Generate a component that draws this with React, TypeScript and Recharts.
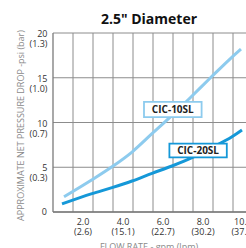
import React from 'react';
import { LineChart, Line, XAxis, YAxis, CartesianGrid, ReferenceLine, ReferenceArea } from 'recharts';

// Flow rate (gpm) and net pressure drop (psi)
const cic10Flow = [1.05, 2.45, 3.45, 4.45, 5.45, 6.45, 7.4, 8.4, 9.4, 9.9];
const cic10Psi = [1.7, 3.6, 5.05, 6.7, 8.75, 10.8, 12.85, 15.05, 17.2, 18.2];
const cic20Flow = [0.95, 2.45, 3.45, 4.45, 5.45, 6.45, 7.45, 8.45, 9.45, 9.95];
const cic20Psi = [0.9, 2.05, 2.72, 3.46, 4.32, 5.14, 6.07, 7.2, 8.4, 9.15];

const flowTicks = [2, 4, 6, 8, 10];
const flowTickLabels = ['2.0', '4.0', '6.0', '8.0', '10.0'];
const flowLpmLabels = ['(2.6)', '(15.1)', '(22.7)', '(30.2)', '(37.9)'];
const psiTicks = [0, 5, 10, 15, 20];
const psiTickLabels = ['0', '5', '10', '15', '20'];
const barTickLabels = ['', '(0.3)', '(0.7)', '(1.0)', '(1.3)'];
const flowGridLines = [1.5, 2.5, 3.5, 4.5, 5.5, 6.5, 7.5, 8.5, 9.5];

const seriesNames = ['CIC-10SL', 'CIC-20SL'];
const label10Box = { x1: 5.05, x2: 7.93, y1: 10.6, y2: 12.3 };
const label20Box = { x1: 6.32, x2: 9.19, y1: 6.1, y2: 7.65 };

const cic10Data = cic10Flow.map((f, i) => ({ gpm: f, psi: cic10Psi[i] }));
const cic20Data = cic20Flow.map((f, i) => ({ gpm: f, psi: cic20Psi[i] }));

const FONT = '"Open Sans", "DejaVu Sans", sans-serif';
const LIGHT = '#8dcbee';
const DARK = '#1598d8';
const GRID = '#8c8c8c';

const XTick = (props: any) => {
  const { x, y, payload } = props;
  const i = flowTicks.indexOf(payload.value);
  if (i < 0) return null;
  return (
    <g>
      <text x={x} y={y + 13} textAnchor="middle" fontSize={9} fontFamily={FONT} fill="#333">{flowTickLabels[i]}</text>
      <text x={x} y={y + 23} textAnchor="middle" fontSize={9} fontFamily={FONT} fill="#333">{flowLpmLabels[i]}</text>
    </g>
  );
};

const YTick = (props: any) => {
  const { x, y, payload } = props;
  const i = psiTicks.indexOf(payload.value);
  if (i < 0) return null;
  if (i === 0) {
    return <text x={x - 6} y={y + 3} textAnchor="end" fontSize={9} fontFamily={FONT} fill="#333">{psiTickLabels[i]}</text>;
  }
  return (
    <g>
      <text x={x - 5.5} y={y + 4} textAnchor="end" fontSize={9} fontFamily={FONT} fill="#333">{psiTickLabels[i]}</text>
      <text x={x - 5.5} y={y + 14} textAnchor="end" fontSize={9} fontFamily={FONT} fill="#333">{barTickLabels[i]}</text>
    </g>
  );
};

const boxLabel = (text: string) => (props: any) => {
  const vb = props.viewBox || {};
  const cx = vb.x + vb.width / 2;
  const cy = vb.y + vb.height / 2;
  return (
    <text x={cx} y={cy + 3.5} textAnchor="middle" fontSize={10} fontWeight={700} fontFamily={FONT} fill="#222">{text}</text>
  );
};

export default function App() {
  return (
    <div style={{ position: 'absolute', left: 0, top: 0, width: 246, height: 248, overflow: 'hidden', background: '#fff' }}>
      <LineChart width={258} height={248} margin={{ top: 33, right: 5, bottom: 0, left: 0 }}>
        <CartesianGrid vertical={false} stroke={GRID} strokeWidth={1} />
        {flowGridLines.map((g) => (
          <ReferenceLine key={g} x={g} stroke={GRID} strokeWidth={1} />
        ))}
        <XAxis
          type="number"
          dataKey="gpm"
          domain={[0.5, 10.5]}
          ticks={flowTicks}
          tick={<XTick />}
          tickLine={false}
          tickSize={0}
          tickMargin={0}
          height={36}
          axisLine={{ stroke: '#7a7a7a', strokeWidth: 1.3 }}
          allowDataOverflow
        />
        <YAxis
          type="number"
          domain={[0, 20]}
          ticks={psiTicks}
          tick={<YTick />}
          tickLine={false}
          tickSize={0}
          tickMargin={0}
          width={53}
          axisLine={{ stroke: '#7a7a7a', strokeWidth: 1.3 }}
        />
        <Line data={cic10Data} dataKey="psi" type="monotone" stroke={LIGHT} strokeWidth={3} dot={false} isAnimationActive={false} name={seriesNames[0]} />
        <Line data={cic20Data} dataKey="psi" type="monotone" stroke={DARK} strokeWidth={3} dot={false} isAnimationActive={false} name={seriesNames[1]} />
        <ReferenceArea {...label10Box} zIndex={2000} fill="#fff" fillOpacity={1} stroke={LIGHT} strokeWidth={1.8} label={boxLabel(seriesNames[0])} />
        <ReferenceArea {...label20Box} zIndex={2000} fill="#fff" fillOpacity={1} stroke={DARK} strokeWidth={1.8} label={boxLabel(seriesNames[1])} />
      </LineChart>
      <svg width={246} height={248} style={{ position: 'absolute', left: 0, top: 0, pointerEvents: 'none' }}>
        <text x={149} y={24} textAnchor="middle" fontSize={14} fontWeight={700} fontFamily={FONT} fill="#111">2.5" Diameter</text>
        <text x={24} y={125.5} transform="rotate(-90, 24, 125.5)" textAnchor="middle" fontSize={9} fontFamily={FONT} fill="#8a8a8a">APPROXIMATE NET PRESSURE DROP -psi (bar)</text>
        <text x={149} y={249.5} textAnchor="middle" fontSize={9} fontFamily={FONT} fill="#8a8a8a">FLOW RATE - gpm (lpm)</text>
      </svg>
    </div>
  );
}
